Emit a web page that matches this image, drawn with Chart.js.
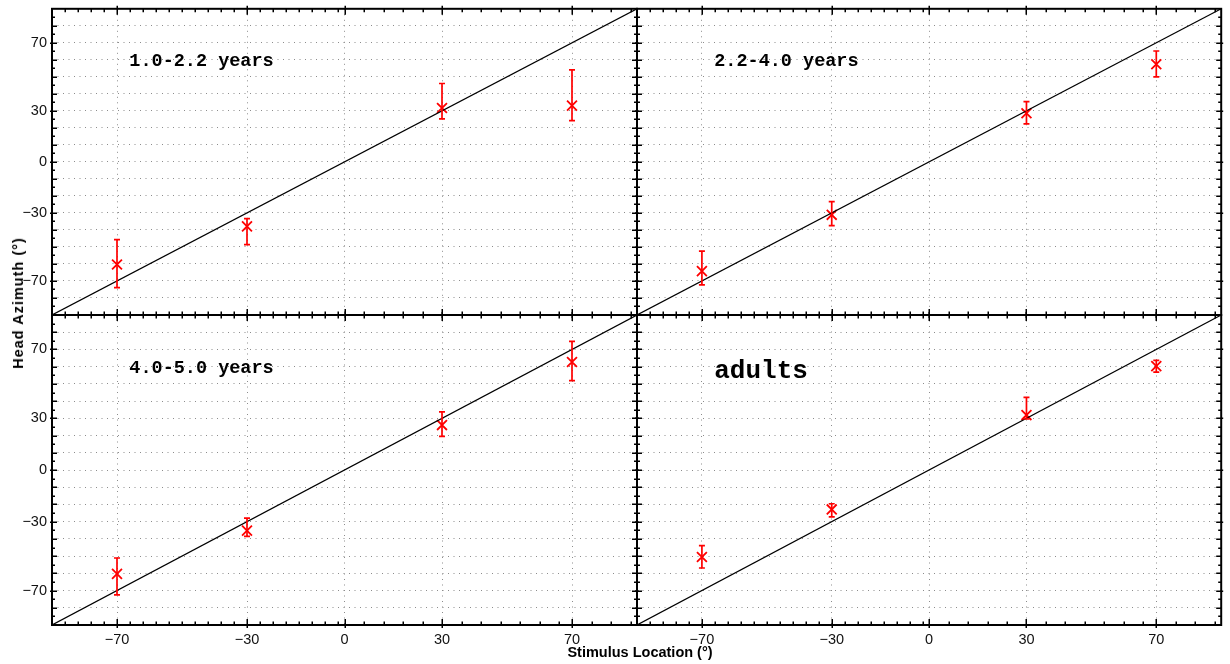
<!DOCTYPE html>
<html>
<head>
<meta charset="utf-8">
<title>Head azimuth vs stimulus location</title>
<script src="https://cdn.jsdelivr.net/npm/chart.js@4.4.0/dist/chart.umd.min.js"></script>
<style>
  body { margin: 0; background: #fff; }
  #wrap { position: relative; width: 1230px; height: 664px; overflow: hidden; }
  #wrap canvas { position: absolute; left: 0; top: 0; }
  .axis-title {
    position: absolute;
    font: bold 14.5px 'Liberation Sans', Arial, sans-serif;
    color: #000;
    white-space: nowrap;
  }
  #xTitle { left: 640px; top: 652px; transform: translate(-50%, -50%); }
  #yTitle { left: 18px; top: 303px; letter-spacing: 1px; transform: translate(-50%, -50%) rotate(-90deg); }
</style>
</head>
<body>
<div id="wrap">
  <canvas id="p1" width="1230" height="664"></canvas>
  <canvas id="p2" width="1230" height="664"></canvas>
  <canvas id="p3" width="1230" height="664"></canvas>
  <canvas id="p4" width="1230" height="664"></canvas>
  <div class="axis-title" id="xTitle">Stimulus Location (°)</div>
  <div class="axis-title" id="yTitle">Head Azimuth (°)</div>
</div>
<script>
// stimulus positions (deg) and the age groups
const stimulus = [-70, -30, 30, 70];
const groups = ['1.0-2.2 years', '2.2-4.0 years', '4.0-5.0 years', 'adults'];

// mean head azimuth per stimulus, with upper / lower ends of the error bars
const mean1 = [-60.3, -37.9, 31.7, 33.1];
const upper1 = [-45.7, -33.4, 46.1, 54.1];
const lower1 = [-73.9, -48.6, 25.3, 24.3];

const mean2 = [-64.2, -31.1, 28.6, 57.4];
const upper2 = [-52.5, -23.3, 35.4, 65.2];
const lower2 = [-72.3, -37.5, 22.4, 50.0];

const mean3 = [-60.3, -35.2, 26.1, 62.7];
const upper3 = [-51.1, -28.0, 33.8, 74.7];
const lower3 = [-72.5, -38.5, 19.5, 51.9];

const meanAdults = [-50.5, -22.9, 31.9, 60.3];
const upperAdults = [-43.9, -19.6, 42.2, 63.6];
const lowerAdults = [-56.9, -27.2, 29.6, 56.8];

// axis ticks
const xLabelTicks = [-70, -30, 0, 30, 70];
const xMinorTicks = [-86, -82, -78, -74, -66, -62, -58, -54, -50, -46, -42, -38, -34,
                     -26, -22, -18, -14, -10, -6, -2, 6, 12, 18, 24, 36, 42, 48, 54, 60, 66, 76, 82, 88];
const yLabelTicks = [-70, -30, 0, 30, 70];
const yGridTicks = [-80, -70, -60, -50, -40, -30, -20, -10, 0, 10, 20, 30, 40, 50, 60, 70, 80];
const yMinorTicks = [-85, -75, -65, -55, -45, -35, -25, -15, -5, 5, 15, 25, 35, 45, 55, 65, 75, 85];

const xTickValues = [...xLabelTicks, ...xMinorTicks].sort((a, b) => a - b);
const yTickValues = [...yGridTicks, ...yMinorTicks].sort((a, b) => a - b);

const gridColor = '#8c8c8c';
const tickFont = { family: "'Liberation Sans', Arial, sans-serif", size: 14.5 };
const fmt = v => (v < 0 ? '\u2212' + Math.abs(v) : String(v));

// error bars, panel frame, inward tick marks and the group title
const panelDecor = {
  id: 'panelDecor',
  afterDatasetsDraw(chart, args, opts) {
    const ctx = chart.ctx;
    const xs = chart.scales.x, ys = chart.scales.y;
    ctx.save();
    ctx.strokeStyle = '#ff0000';
    ctx.lineWidth = 1.7;
    stimulus.forEach((s, i) => {
      const px = xs.getPixelForValue(s);
      const yHi = ys.getPixelForValue(opts.upper[i]);
      const yLo = ys.getPixelForValue(opts.lower[i]);
      ctx.beginPath();
      ctx.moveTo(px, yHi); ctx.lineTo(px, yLo);
      ctx.moveTo(px - 3, yHi); ctx.lineTo(px + 3, yHi);
      ctx.moveTo(px - 3, yLo); ctx.lineTo(px + 3, yLo);
      ctx.stroke();
    });
    ctx.restore();
  },
  afterDraw(chart, args, opts) {
    const ctx = chart.ctx;
    const { left, right, top, bottom } = chart.chartArea;
    const xs = chart.scales.x, ys = chart.scales.y;
    ctx.save();
    ctx.strokeStyle = '#000';
    ctx.lineWidth = 1.5;
    ctx.beginPath();
    xs.ticks.forEach(t => {
      const px = Math.round(xs.getPixelForValue(t.value)) + 0.25;
      const major = xLabelTicks.includes(t.value);
      const inLen = major ? 6 : 3.5;
      const outLen = major ? 3 : 0;
      ctx.moveTo(px, bottom + outLen); ctx.lineTo(px, bottom - inLen);
      ctx.moveTo(px, top - outLen); ctx.lineTo(px, top + inLen);
    });
    ys.ticks.forEach(t => {
      const py = Math.round(ys.getPixelForValue(t.value)) + 0.25;
      const grid = yGridTicks.includes(t.value);
      const labelled = yLabelTicks.includes(t.value);
      const inLen = grid ? 5 : 3;
      const outLen = labelled ? 2 : 0;
      ctx.moveTo(left - outLen, py); ctx.lineTo(left + inLen, py);
      ctx.moveTo(right + outLen, py); ctx.lineTo(right - inLen, py);
    });
    ctx.stroke();
    ctx.lineWidth = 2;
    ctx.strokeRect(left, top, right - left, bottom - top);

    ctx.fillStyle = '#000';
    ctx.font = 'bold ' + opts.titleSize + 'px "Liberation Mono", "Courier New", monospace';
    ctx.textAlign = 'left';
    ctx.textBaseline = 'middle';
    ctx.fillText(opts.title, xs.getPixelForValue(-66.2), ys.getPixelForValue(opts.titleY));
    ctx.restore();
  }
};

// area (px) reserved for the tick labels; the layout padding covers the rest
const yLabelWidth = 52;
const xLabelHeight = 39;

function makePanel(id, title, titleSize, titleY, mean, upper, lower, padding, showX, showY) {
  const ctx = document.getElementById(id).getContext('2d');
  return new Chart(ctx, {
    type: 'scatter',
    data: {
      datasets: [
        {
          type: 'line',
          data: [{ x: -90, y: -90 }, { x: 90, y: 90 }],
          borderColor: '#000',
          borderWidth: 1.2,
          pointRadius: 0,
          fill: false
        },
        {
          label: title,
          data: stimulus.map((s, i) => ({ x: s, y: mean[i] })),
          pointStyle: 'crossRot',
          pointRadius: 7,
          pointBorderWidth: 1.8,
          borderColor: '#ff0000',
          backgroundColor: '#ff0000'
        }
      ]
    },
    options: {
      responsive: false,
      animation: false,
      devicePixelRatio: 1,
      layout: { padding: padding },
      plugins: {
        legend: { display: false },
        tooltip: { enabled: false },
        panelDecor: { title, titleSize, titleY, upper, lower }
      },
      scales: {
        x: {
          type: 'linear',
          min: -90,
          max: 90,
          afterBuildTicks: s => { s.ticks = xTickValues.map(v => ({ value: v })); },
          afterFit: s => {
            s.height = showX ? xLabelHeight : 0;
            s.paddingLeft = 0; s.paddingRight = 0;
          },
          grid: {
            color: c => (c.tick && xLabelTicks.includes(c.tick.value) ? gridColor : 'rgba(0,0,0,0)'),
            lineWidth: 1,
            drawTicks: false
          },
          border: { display: false, dash: [1, 4.5] },
          ticks: {
            display: showX,
            autoSkip: false,
            maxRotation: 0,
            padding: 6,
            color: '#111',
            font: tickFont,
            callback: v => (xLabelTicks.includes(v) ? fmt(v) : '')
          }
        },
        y: {
          type: 'linear',
          min: -90,
          max: 90,
          afterBuildTicks: s => { s.ticks = yTickValues.map(v => ({ value: v })); },
          afterFit: s => {
            s.width = showY ? yLabelWidth : 0;
            s.paddingTop = 0; s.paddingBottom = 0;
          },
          grid: {
            color: c => (c.tick && yGridTicks.includes(c.tick.value) ? gridColor : 'rgba(0,0,0,0)'),
            lineWidth: 1,
            drawTicks: false
          },
          border: { display: false, dash: [1, 4.5] },
          ticks: {
            display: showY,
            autoSkip: false,
            padding: 5,
            color: '#111',
            font: tickFont,
            callback: v => (yLabelTicks.includes(v) ? fmt(v) : '')
          }
        }
      }
    },
    plugins: [panelDecor]
  });
}

makePanel('p1', groups[0], 18.5, 59, mean1, upper1, lower1,
  { left: 0, top: 7, right: 593, bottom: 349 }, false, true);
makePanel('p2', groups[1], 18.5, 59, mean2, upper2, lower2,
  { left: 637, top: 7, right: 8, bottom: 349 }, false, false);
makePanel('p3', groups[2], 18.5, 59, mean3, upper3, lower3,
  { left: 0, top: 315, right: 593, bottom: 0 }, true, true);
makePanel('p4', groups[3], 26, 57, meanAdults, upperAdults, lowerAdults,
  { left: 637, top: 315, right: 8, bottom: 0 }, true, false);
</script>
</body>
</html>
